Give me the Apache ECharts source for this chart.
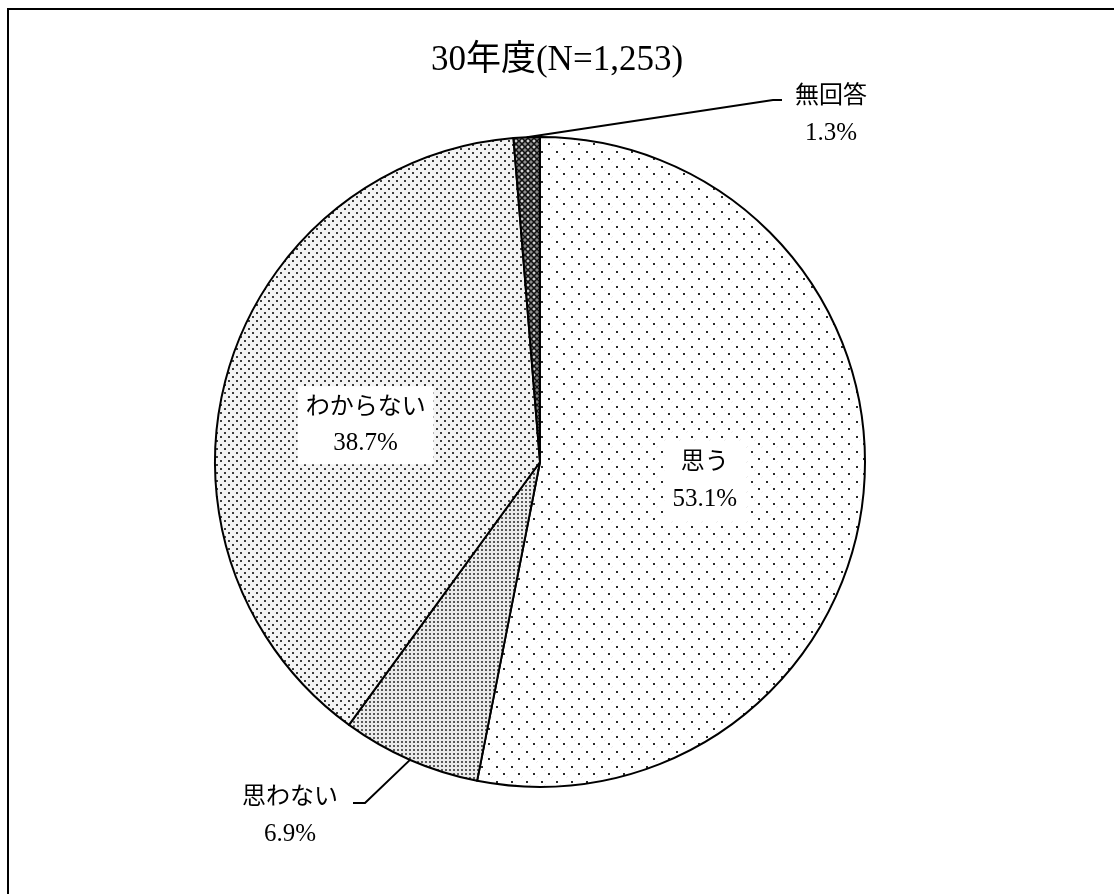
<!DOCTYPE html>
<html>
<head>
<meta charset="utf-8">
<script src="https://cdn.jsdelivr.net/npm/echarts@6/dist/echarts.min.js"></script>
<style>
html, body {margin:0; padding:0; background:#ffffff;}
#main {width:1114px; height:894px;}
</style>
</head>
<body>
<div id="main"></div>
<script>
// データ
var titleText = '30年度(N=1,253)';
var names = ['思う', '思わない', 'わからない', '無回答'];
var values = [53.1, 6.9, 38.7, 1.3];

var FONT = "'Liberation Serif', 'Noto Sans CJK JP', serif";

// 網掛けパターン
function makePattern(kind) {
	var c = document.createElement('canvas');
	var g;
	if (kind == 'sparse') {
		c.width = 15; c.height = 15;
		g = c.getContext('2d');
		g.fillStyle = '#ffffff';
		g.fillRect(0, 0, 15, 15);
		g.fillStyle = '#ececec';
		g.fillRect(5, 4, 1, 1);
		g.fillRect(4, 5, 1, 1);
		g.fillRect(12, 11, 1, 1);
		g.fillRect(11, 12, 1, 1);
		g.fillStyle = '#2a2a2a';
		g.fillRect(1, 1, 2, 2);
		g.fillRect(8, 8, 2, 2);
	} else if (kind == 'medium') {
		c.width = 8; c.height = 8;
		g = c.getContext('2d');
		g.fillStyle = '#f4f4f4';
		g.fillRect(0, 0, 8, 8);
		g.fillStyle = '#3c3c3c';
		g.fillRect(0, 0, 2, 2);
		g.fillRect(4, 4, 2, 2);
	} else if (kind == 'dense') {
		c.width = 4; c.height = 4;
		g = c.getContext('2d');
		g.fillStyle = '#ececec';
		g.fillRect(0, 0, 4, 4);
		g.fillStyle = '#5a5a5a';
		g.fillRect(1, 1, 2, 2);
	} else {
		c.width = 6; c.height = 6;
		g = c.getContext('2d');
		g.fillStyle = '#8a8a8a';
		g.fillRect(0, 0, 6, 6);
		g.strokeStyle = '#111111';
		g.lineWidth = 1.4;
		g.beginPath();
		g.moveTo(0, 0); g.lineTo(6, 6);
		g.moveTo(6, 0); g.lineTo(0, 6);
		g.stroke();
		g.fillStyle = '#d0d0d0';
		g.fillRect(0, 2, 1, 2);
		g.fillRect(5, 2, 1, 2);
	}
	return {image: c, repeat: 'repeat'};
}

var fills = [makePattern('sparse'), makePattern('dense'), makePattern('medium'), makePattern('hatch')];
var insideLabel = [true, false, true, false];

var pieData = names.map(function (n, i) {
	var item = {
		name: n,
		value: values[i],
		itemStyle: {color: fills[i]}
	};
	if (insideLabel[i]) {
		item.label = {
			position: 'inside',
			backgroundColor: '#ffffff',
			padding: [3, 8]
		};
		item.labelLine = {show: false};
	} else {
		item.label = {position: 'outside'};
		item.labelLine = {show: true, length: 20, length2: 10};
	}
	return item;
});

var chart = echarts.init(document.getElementById('main'));

var option = {
	backgroundColor: '#ffffff',
	animation: false,
	title: {
		text: titleText,
		left: 'center',
		top: 38,
		textStyle: {
			fontFamily: FONT,
			fontSize: 35,
			fontWeight: 'normal',
			color: '#000000'
		}
	},
	graphic: [{
		type: 'polyline',
		shape: {points: [[8, 894], [8, 9], [1114, 9]]},
		style: {stroke: '#000000', lineWidth: 2, fill: null},
		silent: true
	}],
	series: [{
		type: 'pie',
		center: [540, 462],
		radius: 325,
		startAngle: 90,
		clockwise: true,
		avoidLabelOverlap: false,
		data: pieData,
		itemStyle: {
			borderColor: '#000000',
			borderWidth: 2
		},
		label: {
			formatter: '{n|{b}}\n{p|{c}%}',
			color: '#000000',
			align: 'center',
			rich: {
				n: {fontFamily: FONT, fontSize: 24, lineHeight: 36, color: '#000000'},
				p: {fontFamily: FONT, fontSize: 25, lineHeight: 36, color: '#000000'}
			}
		},
		labelLine: {
			lineStyle: {color: '#000000', width: 2}
		},
		// 外側ラベルの位置と引出線
		labelLayout: function (params) {
			var i = params.dataIndex;
			var start = params.labelLinePoints ? params.labelLinePoints[0] : null;
			if (i == 1) {
				return {
					x: 290, y: 816, align: 'center', verticalAlign: 'middle',
					labelLinePoints: start ? [start, [365, 803], [353, 803]] : undefined
				};
			}
			if (i == 3) {
				return {
					x: 831, y: 115, align: 'center', verticalAlign: 'middle',
					labelLinePoints: start ? [start, [773, 100], [782, 100]] : undefined
				};
			}
			if (i == 2) {
				return {dx: -15, dy: 8};
			}
			return {dy: 3};
		}
	}]
};

chart.setOption(option);
</script>
</body>
</html>
